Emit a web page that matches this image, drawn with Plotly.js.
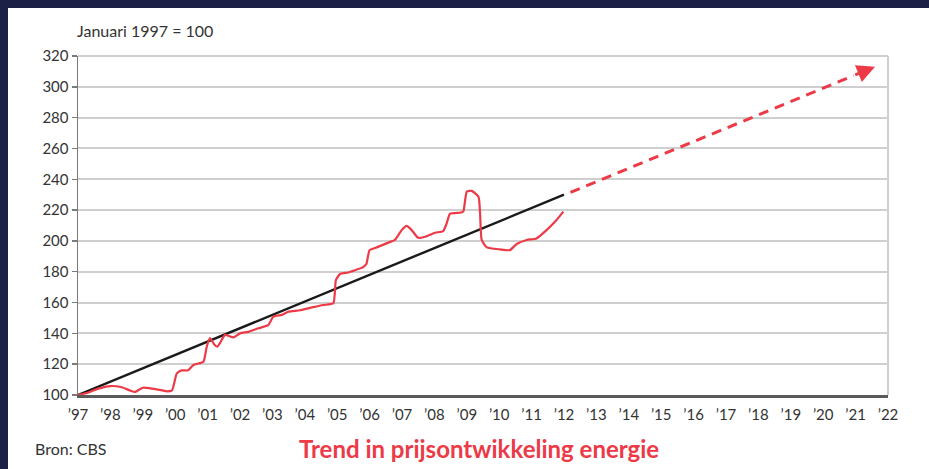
<!DOCTYPE html>
<html>
<head>
<meta charset="utf-8">
<script src="https://cdn.plot.ly/plotly-3.0.1.min.js"></script>
<style>
  html, body { margin: 0; padding: 0; background: #1c2046; width: 929px; height: 469px; overflow: hidden; }
  #chart { position: absolute; left: 8px; top: 8px; width: 921px; height: 461px; background: #fff; }
</style>
</head>
<body>
<div id="chart"></div>
<script>
const priceYears = [1997.0, 1997.3, 1997.6, 1998.0, 1998.35, 1998.6, 1998.76, 1999.0, 1999.2, 1999.43, 1999.74, 1999.9,
  2000.05, 2000.2, 2000.4, 2000.56, 2000.87, 2000.97, 2001.07, 2001.2, 2001.3, 2001.38, 2001.54, 2001.8,
  2002.0, 2002.26, 2002.57, 2002.87, 2003.03, 2003.29, 2003.49, 2003.85, 2004.26, 2004.57, 2004.88, 2004.96,
  2005.09, 2005.34, 2005.55, 2005.8, 2005.9, 2006.0, 2006.22, 2006.52, 2006.78, 2006.99, 2007.14, 2007.3,
  2007.5, 2007.71, 2008.02, 2008.27, 2008.38, 2008.48, 2008.79, 2008.89, 2009.0, 2009.15, 2009.36, 2009.41,
  2009.46, 2009.62, 2010.02, 2010.33, 2010.54, 2010.85, 2011.15, 2011.46, 2011.77, 2011.98];
const priceValues = [100, 101.5, 104, 105.8, 105, 103, 102, 104.7, 104.5, 103.7, 102.4, 103,
  114, 116, 116, 119.5, 121.6, 131, 137, 133, 131.3, 133.7, 139, 137.4,
  140, 141, 143.3, 145.4, 150.8, 152, 154, 155, 157, 158.4, 159.5, 174.6,
  178.5, 179.5, 181, 183, 185, 194, 195.8, 198.4, 200.6, 207, 209.7, 207,
  202, 202.7, 205.3, 206.4, 211.4, 217.5, 218.3, 219, 232, 232.5, 228.7, 217.8,
  200.6, 195.8, 194.5, 194, 198, 200.6, 201.6, 207, 213.6, 219];

// Trend line
const trendYears = [1997, 2012];
const trendValues = [100, 230];

// Extrapolated trend (dashed arrow)
const forecastYears = [2012.2, 2021.6];
const forecastValues = [231.5, 313];

// Axis ticks
const tickYears = [1997,1998,1999,2000,2001,2002,2003,2004,2005,2006,2007,2008,2009,2010,2011,2012,2013,2014,2015,2016,2017,2018,2019,2020,2021,2022];
const tickLabels = ["’97","’98","’99","’00","’01","’02","’03","’04","’05","’06","’07","’08","’09","’10","’11","’12","’13","’14","’15","’16","’17","’18","’19","’20","’21","’22"];
const yTicks = [100,120,140,160,180,200,220,240,260,280,300,320];

const red = '#ec3a47';
const font = 'Lato, "Open Sans", sans-serif';

// arrow head: from a point slightly back along the forecast line to its end
const fx0 = forecastYears[0], fx1 = forecastYears[forecastYears.length-1];
const fy0 = forecastValues[0], fy1 = forecastValues[forecastValues.length-1];
const back = 0.07;
const tailX = fx1 - (fx1 - fx0) * back, tailY = fy1 - (fy1 - fy0) * back;

const traces = [
  { x: trendYears, y: trendValues, mode: 'lines', line: { color: '#1a1a1a', width: 2.4 }, hoverinfo: 'skip' },
  { x: priceYears, y: priceValues, mode: 'lines', line: { color: red, width: 2.2, shape: 'spline', smoothing: 0.5 }, hoverinfo: 'skip' },
  { x: [fx0, tailX], y: [fy0, tailY], mode: 'lines', line: { color: red, width: 3, dash: '10px,7px' }, hoverinfo: 'skip' }
];

const layout = {
  width: 921, height: 461,
  margin: { l: 70, r: 41, t: 48, b: 74 },
  paper_bgcolor: '#ffffff', plot_bgcolor: '#ffffff',
  showlegend: false,
  font: { family: font, color: '#333', size: 15 },
  xaxis: {
    range: [1997, 2022], tickvals: tickYears, ticktext: tickLabels,
    showgrid: false, zeroline: false, showline: true, linecolor: '#5a5a5a', linewidth: 2.5,
    ticks: 'outside', ticklen: 4, tickcolor: 'rgba(0,0,0,0)',
    tickfont: { family: font, size: 15, color: '#333' }, fixedrange: true
  },
  yaxis: {
    range: [100, 320], tickvals: yTicks,
    showgrid: true, gridcolor: '#cfcfcf', gridwidth: 2, zeroline: false,
    showline: true, linecolor: '#7a7a7a', linewidth: 1.5,
    ticks: 'outside', ticklen: 5, tickcolor: '#7a7a7a', tickwidth: 1.5,
    tickfont: { family: font, size: 15, color: '#333' }, fixedrange: true
  },
  shapes: [
    { type: 'line', xref: 'paper', yref: 'paper', x0: 1, x1: 1, y0: 0, y1: 1, line: { color: '#cfcfcf', width: 2 } },
    { type: 'line', xref: 'paper', yref: 'paper', x0: 0, x1: 1, y0: 1, y1: 1, line: { color: '#cfcfcf', width: 2 } }
  ],
  annotations: [
    { x: fx1, y: fy1, ax: tailX, ay: tailY, xref: 'x', yref: 'y', axref: 'x', ayref: 'y',
      text: '', showarrow: true, arrowhead: 2, arrowsize: 1.2, arrowwidth: 3, arrowcolor: red, standoff: 0 },
    { text: 'Januari 1997 = 100', xref: 'paper', yref: 'paper', x: 0, y: 1, xanchor: 'left', yanchor: 'bottom',
      yshift: 14, xshift: -3, showarrow: false, font: { family: font, size: 16, color: '#333' } },
    { text: 'Bron: CBS', xref: 'paper', yref: 'paper', x: 0, y: 0, xanchor: 'left', yanchor: 'middle',
      xshift: -45, yshift: -53, showarrow: false, font: { family: font, size: 16, color: '#333' } },
    { text: '<b>Trend in prijsontwikkeling energie</b>', xref: 'paper', yref: 'paper', x: 0.495, y: 0, xanchor: 'center', yanchor: 'middle',
      yshift: -53, showarrow: false, font: { family: font, size: 24, color: red } }
  ]
};

Plotly.newPlot('chart', traces, layout, { displayModeBar: false, staticPlot: true });
</script>
</body>
</html>
